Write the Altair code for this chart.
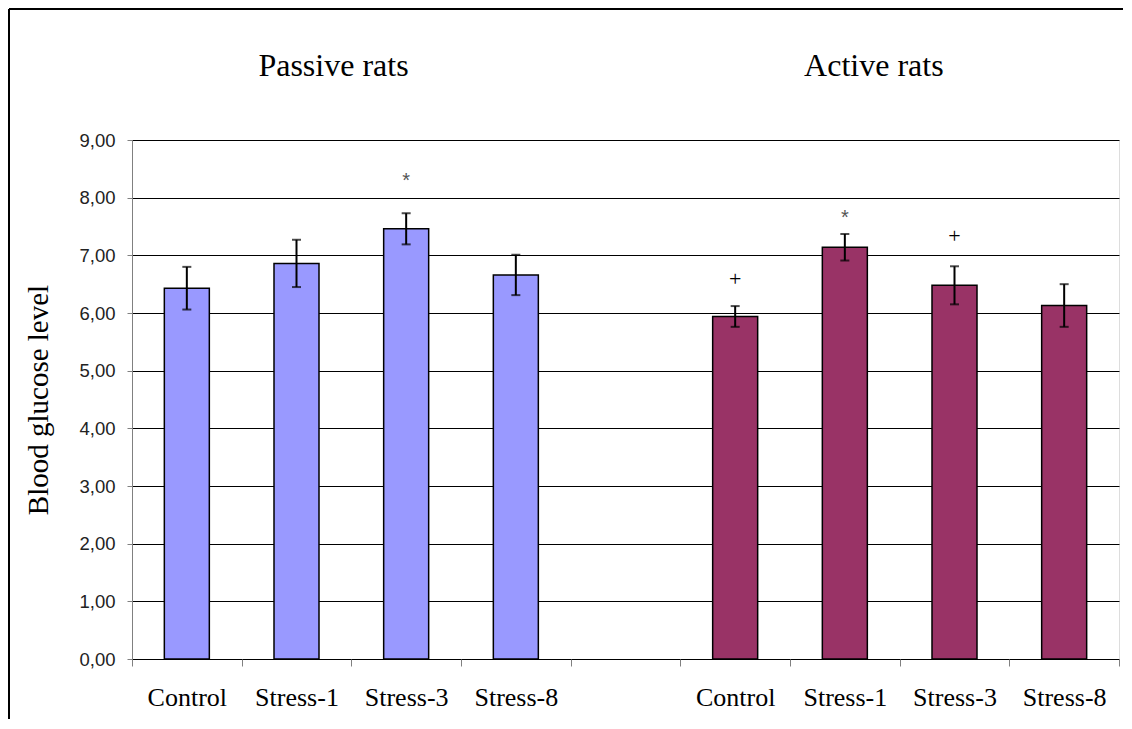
import altair as alt
import pandas as pd

# ---- data ----
groups = ["Passive rats", "Active rats"]
conditions = ["Control", "Stress-1", "Stress-3", "Stress-8"]
passive_mean = [6.43, 6.86, 7.46, 6.66]
passive_err = [0.37, 0.41, 0.27, 0.35]
active_mean = [5.94, 7.14, 6.48, 6.13]
active_err = [0.18, 0.23, 0.33, 0.37]
y_ticks = [0, 1, 2, 3, 4, 5, 6, 7, 8, 9]

# significance marks: (group, condition, symbol, y position)
mark_group = ["P", "A", "A", "A"]
mark_cond = ["Stress-3", "Control", "Stress-1", "Stress-3"]
mark_symbol = ["*", "+", "*", "+"]
mark_y = [8.39, 6.58, 7.75, 7.32]

# ---- build tables ----
slots = [c + "_P" for c in conditions] + ["gap"] + [c + "_A" for c in conditions]

rows = []
for c, m, e in zip(conditions, passive_mean, passive_err):
    rows.append({"slot": c + "_P", "group": "Passive", "mean": m, "lo": m - e, "hi": m + e})
for c, m, e in zip(conditions, active_mean, active_err):
    rows.append({"slot": c + "_A", "group": "Active", "mean": m, "lo": m - e, "hi": m + e})
df = pd.DataFrame(rows)

marks = pd.DataFrame({
    "slot": [c + "_" + g for g, c in zip(mark_group, mark_cond)],
    "symbol": mark_symbol,
    "y": mark_y,
})

heads = pd.DataFrame({"slot": ["Stress-1_P", "Stress-1_A"], "text": groups})

W, H = 987, 519
SERIF = "Liberation Serif"
SANS = "Liberation Sans"

x_enc = alt.X(
    "slot:N",
    scale=alt.Scale(domain=slots, paddingInner=0, paddingOuter=0),
    axis=alt.Axis(
        title=None,
        labelExpr="isValid(datum.value) && datum.value != 'gap' ? split(datum.value, '_')[0] : ''",
        labelAngle=0,
        labelFont=SERIF,
        labelFontSize=26,
        labelColor="#000000",
        labelPadding=18,
        tickBand="extent",
        tickColor="#808080",
        tickSize=7,
        domain=False,
        grid=False,
    ),
)

y_scale = alt.Scale(domain=[0, 9], nice=False, zero=True)
y_enc = alt.Y(
    "mean:Q",
    scale=y_scale,
    axis=alt.Axis(
        title="Blood glucose level",
        titleFont=SERIF,
        titleFontSize=29,
        titleFontWeight="normal",
        titleColor="#000000",
        titlePadding=25,
        values=y_ticks,
        labelExpr="replace(format(datum.value, '.2f'), '.', ',')",
        labelFont=SANS,
        labelFontSize=18.5,
        labelColor="#222222",
        labelPadding=12,
        tickColor="#808080",
        tickSize=5,
        domainColor="#808080",
        gridColor="#000000",
        gridOpacity=1,
        gridWidth=1,
    ),
)

base = alt.Chart(df)

bars = base.mark_bar(size=45, stroke="#000000", strokeWidth=1.5).encode(
    x=x_enc,
    y=y_enc,
    color=alt.Color(
        "group:N",
        scale=alt.Scale(domain=["Passive", "Active"], range=["#9999FF", "#993366"]),
        legend=None,
    ),
)

err_rule = base.mark_rule(color="#000000", strokeWidth=2).encode(
    x=alt.X("slot:N"), y=alt.Y("lo:Q"), y2="hi:Q"
)
cap_lo = base.mark_tick(color="#000000", size=9, thickness=2, orient="horizontal").encode(
    x=alt.X("slot:N"), y=alt.Y("lo:Q")
)
cap_hi = base.mark_tick(color="#000000", size=9, thickness=2, orient="horizontal").encode(
    x=alt.X("slot:N"), y=alt.Y("hi:Q")
)

stars = alt.Chart(marks).transform_filter("datum.symbol == '*'").mark_text(
    font=SANS, fontSize=20, color="#555555", baseline="alphabetic", dy=12
).encode(x=alt.X("slot:N"), y=alt.Y("y:Q"), text="symbol:N")

pluses = alt.Chart(marks).transform_filter("datum.symbol == '+'").mark_text(
    font=SERIF, fontSize=22, color="#000000", baseline="alphabetic", dy=6
).encode(x=alt.X("slot:N"), y=alt.Y("y:Q"), text="symbol:N")

head_p = alt.Chart(heads).transform_filter("datum.slot == 'Stress-1_P'").mark_text(
    font=SERIF, fontSize=32, color="#000000", baseline="alphabetic", dx=37
).encode(x=alt.X("slot:N"), y=alt.value(-64), text="text:N")
head_a = alt.Chart(heads).transform_filter("datum.slot == 'Stress-1_A'").mark_text(
    font=SERIF, fontSize=32, color="#000000", baseline="alphabetic", dx=29
).encode(x=alt.X("slot:N"), y=alt.value(-64), text="text:N")

frame_top = alt.Chart(df).mark_rule(color="#000000", strokeWidth=1.5).encode(
    x=alt.value(-123), x2=alt.value(W + 20), y=alt.value(-131)
)
frame_left = alt.Chart(df).mark_rule(color="#000000", strokeWidth=1.5).encode(
    x=alt.value(-123), y=alt.value(-131), y2=alt.value(H + 80)
)

chart = (
    alt.layer(bars, err_rule, cap_lo, cap_hi, stars, pluses, head_p, head_a, frame_top, frame_left)
    .properties(
        width=W,
        height=H,
        autosize=alt.AutoSizeParams(type="none"),
        padding={"left": 124, "top": 132, "right": 4, "bottom": 60},
    )
    .configure_view(stroke="#808080", strokeWidth=1)
    .configure(background="#ffffff")
)

chart.save("out.html", embed_options={"renderer": "svg", "actions": False})
